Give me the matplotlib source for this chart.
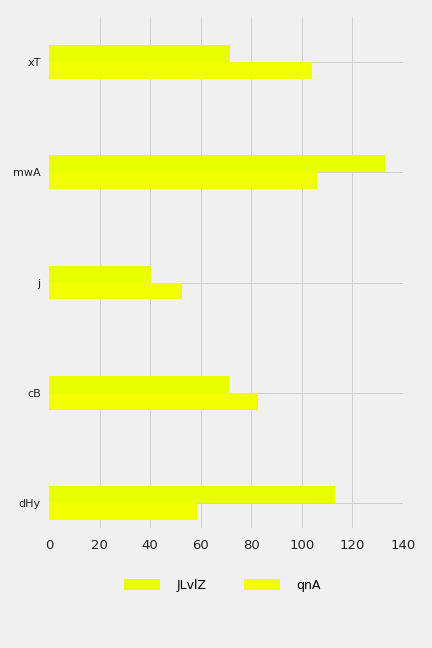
import numpy as np
import matplotlib
matplotlib.use("Agg")
import matplotlib.pyplot as plt

# data (bottom category first)
categories = ["dHy", "cB", "j", "mwA", "xT"]
jlvlz = [113, 71, 40.5, 133, 71.5]
qna = [58.5, 82.5, 52.5, 106, 104]
series_names = ["JLvlZ", "qnA"]
xticks = [0, 20, 40, 60, 80, 100, 120, 140]

plt.style.use("fivethirtyeight")
fig = plt.figure(figsize=(4.32, 6.48), dpi=100, facecolor="#f0f0f0")
ax = fig.add_axes([0.1134, 0.1852, 0.8194, 0.790])
ax.set_facecolor("#f0f0f0")

pos = np.arange(len(categories))
h = 0.154
ax.barh(pos + h / 2, jlvlz, height=h, color="#e8ff00", label=series_names[0], zorder=3)
ax.barh(pos - h / 2, qna, height=h, color="#f2ff00", label=series_names[1], zorder=3)

ax.set_yticks(pos)
ax.set_yticklabels(categories, fontsize=8, color="#222222")
ax.set_xticks(xticks)
ax.set_xticklabels([str(t) for t in xticks], fontsize=9.5, color="#222222")
ax.set_xlim(0, 140)
ax.set_ylim(-0.227, 4.417)
ax.tick_params(axis="both", length=0)
ax.tick_params(axis="x", pad=8)
ax.tick_params(axis="y", pad=6)
ax.grid(True, axis="y", color="#cfcfcf", linewidth=0.7)
# vertical grid only at the inner ticks
for t in xticks[1:-1]:
    ax.axvline(t, color="#cfcfcf", linewidth=0.7, zorder=1)
ax.grid(False, axis="x")
ax.set_axisbelow(True)
for s in ax.spines.values():
    s.set_visible(False)

fig.legend(loc="center", bbox_to_anchor=(0.515, 0.097), ncol=2, frameon=False,
           fontsize=9, handlelength=2.9, handleheight=1.0, columnspacing=3.0,
           handletextpad=1.3)

fig.savefig("out.png", dpi=100, facecolor="#f0f0f0")
